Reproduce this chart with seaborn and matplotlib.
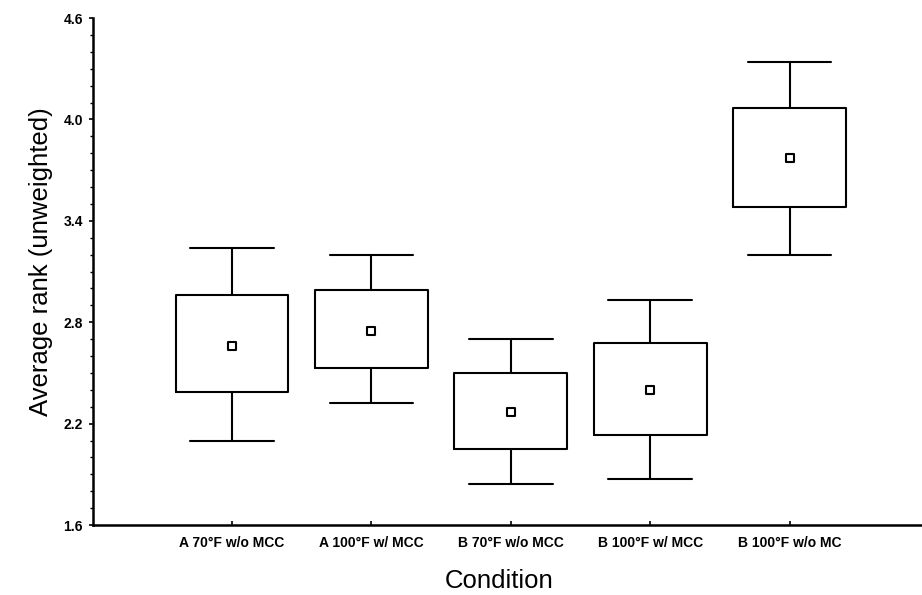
import numpy as np
import pandas as pd
import matplotlib
matplotlib.use("Agg")
import matplotlib.pyplot as plt
from matplotlib.ticker import MultipleLocator, FormatStrFormatter
import seaborn as sns

# Datos
condiciones = ["A 70°F w/o MCC", "A 100°F w/ MCC", "B 70°F w/o MCC",
               "B 100°F w/ MCC", "B 100°F w/o MC"]
medias = [2.66, 2.75, 2.27, 2.40, 3.77]
caja_inf = [2.39, 2.53, 2.05, 2.13, 3.48]
caja_sup = [2.96, 2.99, 2.50, 2.68, 4.07]
bigote_inf = [2.10, 2.32, 1.84, 1.87, 3.20]
bigote_sup = [3.24, 3.20, 2.70, 2.93, 4.34]
y_ticks = [1.6, 2.2, 2.8, 3.4, 4.0, 4.6]

df = pd.DataFrame({"condicion": condiciones, "media": medias})

sns.set_theme(style="ticks")
plt.rcParams["font.family"] = ["Liberation Sans", "DejaVu Sans"]

fig = plt.figure(figsize=(9.22, 5.95), dpi=100)
ax = fig.add_axes([0.1005, 0.1176, 0.8995, 0.852])

# Estadisticos precalculados para las cajas
stats = []
for i in range(len(condiciones)):
    stats.append({"med": medias[i], "q1": caja_inf[i], "q3": caja_sup[i],
                  "whislo": bigote_inf[i], "whishi": bigote_sup[i],
                  "fliers": []})

lw = 1.5
ax.bxp(stats, positions=np.arange(len(condiciones)), widths=0.81,
       capwidths=0.6, showfliers=False, manage_ticks=False,
       boxprops=dict(color="black", linewidth=lw),
       whiskerprops=dict(color="black", linewidth=lw),
       capprops=dict(color="black", linewidth=lw),
       medianprops=dict(linewidth=0))

# Media como cuadrado hueco
sns.scatterplot(data=df, x="condicion", y="media", marker="s", s=34,
                facecolor="white", edgecolor="black", linewidth=1.5,
                zorder=5, ax=ax, legend=False)

ax.set_xlim(-1.0, 4.95)
ax.set_ylim(1.6, 4.6)
ax.set_xticks(np.arange(len(condiciones)))
ax.set_xticklabels(condiciones, fontsize=10, fontweight="bold")
ax.set_yticks(y_ticks)
ax.yaxis.set_major_formatter(FormatStrFormatter("%.1f"))
ax.yaxis.set_minor_locator(MultipleLocator(0.1))
for lab in ax.get_yticklabels():
    lab.set_fontsize(10)
    lab.set_fontweight("bold")

ax.tick_params(axis="y", which="major", direction="out", length=3, width=1.2,
               color="black", pad=4, labelcolor="black")
ax.tick_params(axis="y", which="minor", direction="out", length=2, width=1,
               color="black", left=True)
ax.tick_params(axis="x", direction="in", length=3, width=1.2, color="black",
               pad=8, labelcolor="black")

ax.set_xlabel("Condition", fontsize=18.5, color="black")
ax.set_ylabel("Average rank (unweighted)", fontsize=18.5, color="black")
ax.xaxis.set_label_coords(0.49, -0.086)
ax.yaxis.set_label_coords(-0.048, 0.52)

sns.despine(ax=ax)
for s in ["left", "bottom"]:
    ax.spines[s].set_linewidth(1.8)
    ax.spines[s].set_color("black")

fig.savefig("out.png", dpi=100, facecolor="white")
